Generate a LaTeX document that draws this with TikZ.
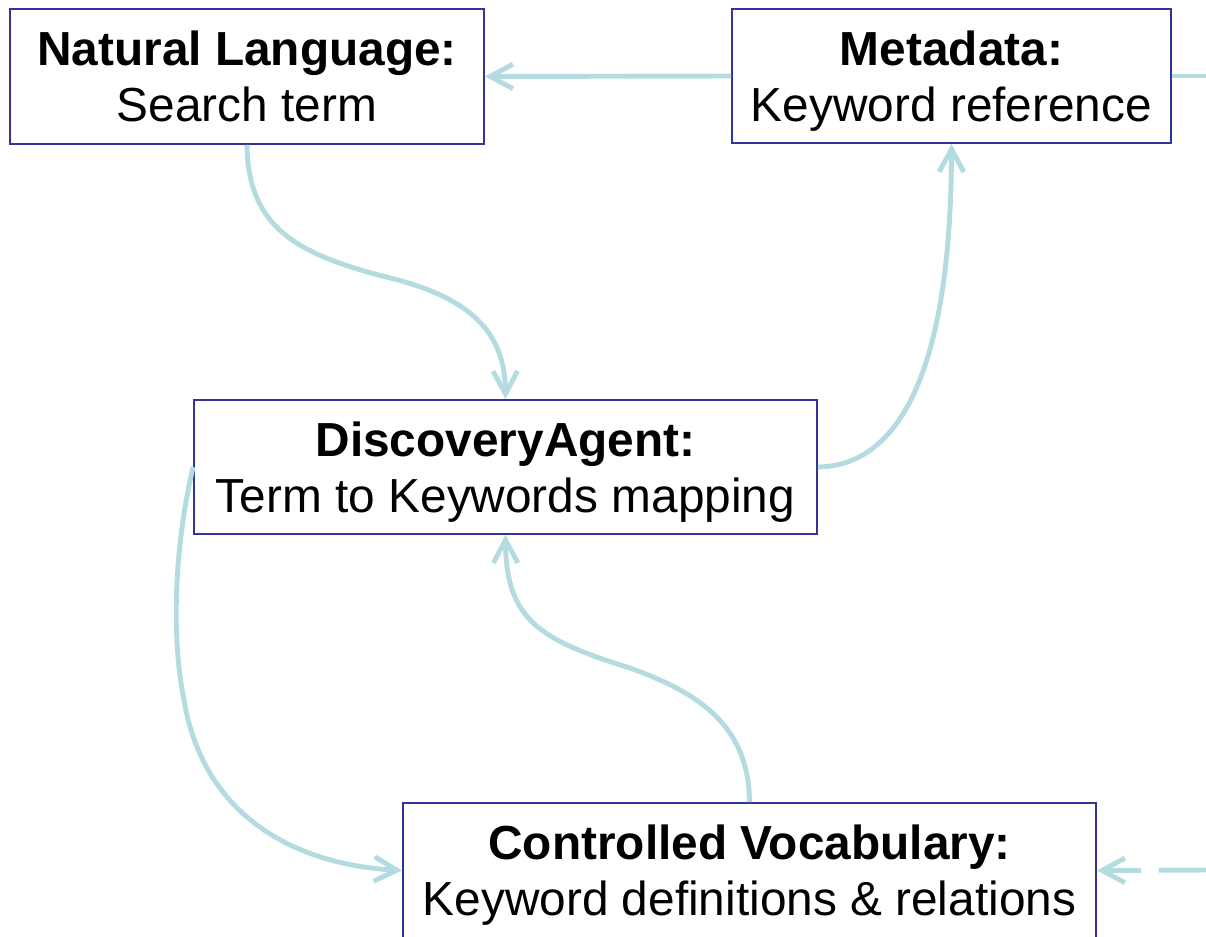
\documentclass[tikz,border=0pt]{standalone}
\usepackage{fontspec}
\setmainfont{Liberation Sans}
\usetikzlibrary{arrows.meta}
\definecolor{boxline}{RGB}{51,51,153}
\definecolor{linkline}{RGB}{180,220,224}
\newcommand{\lastline}[1]{\raisebox{0pt}[\height][0pt]{#1}}

\begin{document}
\begin{tikzpicture}[x=0.02cm, y=-0.02cm,
  box/.style={draw=boxline, line width=1.1pt, inner sep=0pt, align=center,
    font={\fontsize{27.2}{32}\selectfont}},
  link/.style={draw=linkline, line width=2.8pt, -{Straight Barb[length=13pt,width=14pt]}}]
  \useasboundingbox (0,0) rectangle (1206,936);

  % the four boxes
  \node [box, minimum width=9.48cm, minimum height=2.7cm](nl) at (247,76.5) {\textbf{Natural Language:}\\\lastline{Search term}};
  \node [box, minimum width=8.78cm, minimum height=2.68cm](md) at (951.5,76) {\textbf{Metadata:}\\\lastline{Keyword reference}};
  \node [box, minimum width=12.46cm, minimum height=2.68cm](da) at (505.5,467) {\textbf{DiscoveryAgent:}\\\lastline{Term to Keywords mapping}};
  \node [box, minimum width=13.86cm, minimum height=2.7cm](cv) at (749.5,870.5) {\textbf{Controlled Vocabulary:}\\\lastline{Keyword definitions \& relations}};

  % loose ends at the page edge
  \coordinate (mdout) at (1212,76);
  \coordinate (cvin) at (1206,870);

  \draw [link] (md.west) -- (nl.east);
  \draw [draw=linkline, line width=2.8pt] (md.east) -- (mdout);
  \draw [link, dash pattern=on 27pt off 10pt] (cvin) -- (cv.east);

  \draw [link] (nl.south) .. controls (248,230) and (300,255) .. (390,278)
    .. controls (480,300) and (505,340) .. (da.north);
  \draw [link] (da.east) .. controls (895,466) and (951,380) .. (md.south);
  \draw [link] (da.west) .. controls (176,540) and (170,630) .. (184,700)
    .. controls (204,820) and (300,865) .. (cv.west);
  \draw [link] (cv.north) .. controls (749,720) and (690,690) .. (630,668)
    .. controls (540,640) and (506,620) .. (da.south);
\end{tikzpicture}
\end{document}
